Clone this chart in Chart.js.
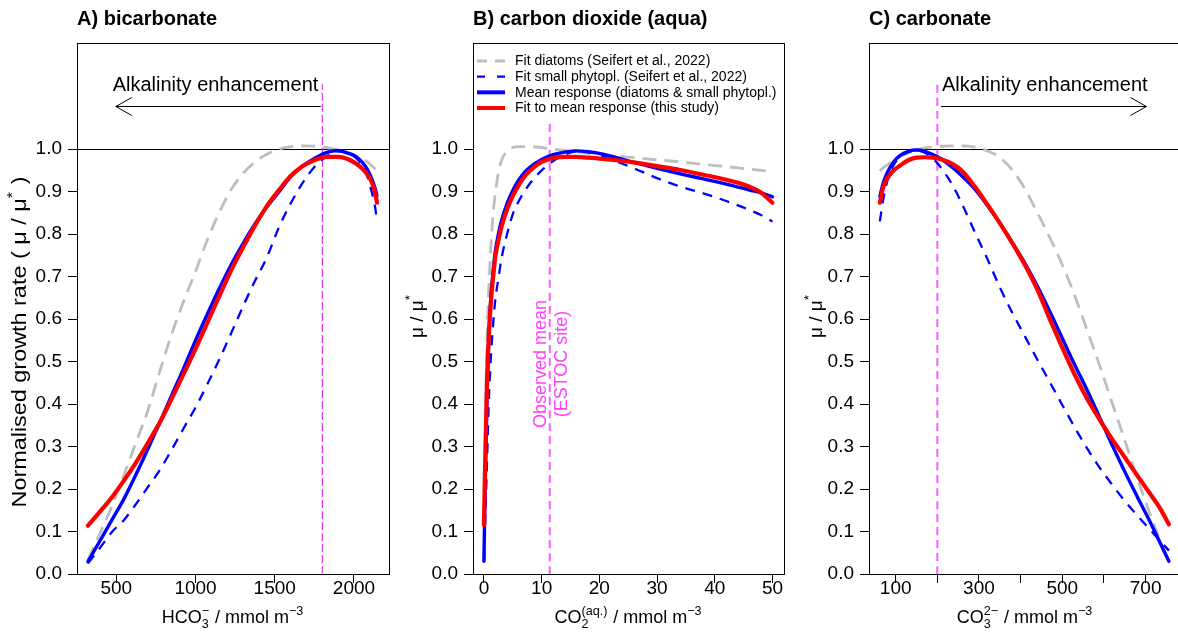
<!DOCTYPE html>
<html><head><meta charset="utf-8">
<script src="https://cdn.jsdelivr.net/npm/chart.js@4.4.0/dist/chart.umd.min.js"></script>
<style>
html,body{margin:0;padding:0;overflow:hidden;background:#fff;width:1178px;height:634px}
.p{position:absolute;top:0;width:395px;height:634px}
canvas{display:block}
</style></head><body>
<div class="p" style="left:0"><canvas id="cA" width="395" height="634"></canvas></div>
<div class="p" style="left:395px"><canvas id="cB" width="395" height="634"></canvas></div>
<div class="p" style="left:790px"><canvas id="cC" width="395" height="634"></canvas></div>
<script>
// ---------------- DATA ----------------
const seriesLabels = [
  'Fit diatoms (Seifert et al., 2022)',
  'Fit small phytopl. (Seifert et al., 2022)',
  'Mean response (diatoms & small phytopl.)',
  'Fit to mean response (this study)'
];
const yTicks = [0, 0.1, 0.2, 0.3, 0.4, 0.5, 0.6, 0.7, 0.8, 0.9, 1.0];

// A) bicarbonate
const hco3X        = [321, 400, 475, 550, 625, 700, 775, 850, 925, 1000, 1075, 1150, 1225, 1300, 1375, 1450, 1525, 1600, 1675, 1750, 1825, 1900, 1960, 2010, 2050, 2085, 2115, 2135, 2145];
const hco3Diatoms  = [0.033, 0.098, 0.162, 0.235, 0.31, 0.386, 0.478, 0.565, 0.642, 0.712, 0.787, 0.851, 0.905, 0.943, 0.97, 0.988, 1.0, 1.006, 1.008, 1.007, 1.004, 0.998, 0.992, 0.985, 0.978, 0.97, 0.96, 0.953, 0.949];
const hco3Small    = [0.025, 0.063, 0.1, 0.128, 0.165, 0.205, 0.245, 0.293, 0.343, 0.392, 0.447, 0.505, 0.567, 0.63, 0.69, 0.745, 0.815, 0.872, 0.92, 0.958, 0.983, 0.995, 0.99, 0.98, 0.962, 0.935, 0.895, 0.86, 0.83];
const hco3Mean     = [0.029, 0.08, 0.129, 0.178, 0.235, 0.295, 0.357, 0.421, 0.484, 0.55, 0.612, 0.672, 0.728, 0.778, 0.824, 0.864, 0.899, 0.935, 0.96, 0.978, 0.992, 0.997, 0.991, 0.983, 0.97, 0.952, 0.928, 0.906, 0.89];
const hco3Fit      = [0.114, 0.148, 0.182, 0.221, 0.263, 0.309, 0.357, 0.413, 0.471, 0.53, 0.592, 0.654, 0.715, 0.769, 0.82, 0.866, 0.903, 0.937, 0.96, 0.974, 0.982, 0.982, 0.977, 0.967, 0.955, 0.94, 0.92, 0.895, 0.874];
const hco3Ticks    = [500, 1000, 1500, 2000];

// B) carbon dioxide (aqua)
const co2X         = [0, 0.2, 0.5, 0.8, 1.2, 1.6, 2, 2.5, 3, 4, 5, 6, 7, 8, 10, 12, 14, 16, 18, 20, 23, 26, 30, 34, 38, 42, 46, 48, 50];
const co2Diatoms   = [0.03, 0.3, 0.54, 0.66, 0.77, 0.85, 0.9, 0.945, 0.972, 0.996, 1.004, 1.006, 1.006, 1.006, 1.004, 1.0, 0.997, 0.994, 0.99, 0.988, 0.984, 0.98, 0.975, 0.97, 0.964, 0.959, 0.953, 0.95, 0.947];
const co2Small     = [0.03, 0.12, 0.25, 0.39, 0.51, 0.59, 0.65, 0.695, 0.74, 0.8, 0.847, 0.877, 0.9, 0.92, 0.95, 0.972, 0.987, 0.995, 0.994, 0.987, 0.971, 0.955, 0.932, 0.912, 0.896, 0.878, 0.857, 0.845, 0.83];
const co2Mean      = [0.03, 0.2, 0.4, 0.54, 0.65, 0.715, 0.763, 0.8, 0.83, 0.872, 0.903, 0.927, 0.945, 0.958, 0.976, 0.987, 0.993, 0.996, 0.994, 0.99, 0.98, 0.969, 0.955, 0.942, 0.93, 0.918, 0.904, 0.897, 0.888];
const co2Fit       = [0.115, 0.26, 0.44, 0.55, 0.64, 0.7, 0.75, 0.785, 0.815, 0.858, 0.89, 0.915, 0.935, 0.95, 0.97, 0.979, 0.982, 0.982, 0.98, 0.978, 0.974, 0.969, 0.96, 0.951, 0.94, 0.928, 0.912, 0.898, 0.874];
const co2Ticks     = [0, 10, 20, 30, 40, 50];

// C) carbonate
const co3X         = [62, 70, 80, 95, 110, 130, 150, 170, 190, 210, 235, 260, 290, 320, 350, 380, 410, 440, 470, 500, 530, 560, 590, 620, 650, 680, 710, 735, 756];
const co3Diatoms   = [0.949, 0.956, 0.963, 0.973, 0.982, 0.991, 0.998, 1.003, 1.006, 1.007, 1.008, 1.008, 1.005, 0.996, 0.981, 0.951, 0.907, 0.851, 0.792, 0.728, 0.655, 0.573, 0.49, 0.402, 0.315, 0.226, 0.143, 0.078, 0.029];
const co3Small     = [0.83, 0.88, 0.925, 0.962, 0.982, 0.993, 0.997, 0.992, 0.978, 0.955, 0.918, 0.87, 0.805, 0.742, 0.675, 0.615, 0.56, 0.505, 0.452, 0.398, 0.345, 0.295, 0.25, 0.21, 0.172, 0.138, 0.105, 0.078, 0.055];
const co3Mean      = [0.889, 0.92, 0.945, 0.97, 0.985, 0.995, 0.998, 0.995, 0.987, 0.977, 0.958, 0.936, 0.906, 0.868, 0.826, 0.78, 0.732, 0.678, 0.618, 0.555, 0.492, 0.432, 0.368, 0.303, 0.241, 0.182, 0.124, 0.073, 0.03];
const co3Fit       = [0.874, 0.91, 0.932, 0.95, 0.961, 0.974, 0.98, 0.981, 0.98, 0.976, 0.966, 0.948, 0.912, 0.87, 0.826, 0.779, 0.728, 0.67, 0.6, 0.533, 0.469, 0.412, 0.363, 0.317, 0.275, 0.232, 0.19, 0.154, 0.117];
const co3Ticks     = [100, 200, 300, 400, 500, 600, 700];
const co3TickLabels = [100, 300, 500, 700];

// observed means (ESTOC site): HCO3, CO2, CO3
const observedMean = [1800, 11.4, 200];

// ---------------- STYLE / HELPERS ----------------
const FONT = "'Liberation Sans', Arial, Helvetica, sans-serif";
const STY = {
  diatoms: {borderColor: '#bebebe', borderWidth: 2.8, borderDash: [14, 8], borderCapStyle: 'butt', legendDash: [10, 8]},
  small:   {borderColor: '#0000ff', borderWidth: 2.3, borderDash: [10, 8], borderCapStyle: 'butt', legendDash: [8, 12]},
  mean:    {borderColor: '#0000ff', borderWidth: 3.4, borderCapStyle: 'round'},
  fit:     {borderColor: '#ff0000', borderWidth: 4.2, borderCapStyle: 'round'}
};
const zip = (xs, ys) => xs.map((x, i) => ({x: x, y: ys[i]}));

function makeDatasets(xs, d, s, m, f, obs, obsTop, obsStyle) {
  const base = {pointRadius: 0, fill: false, cubicInterpolationMode: 'monotone', borderJoinStyle: 'round'};
  return [
    Object.assign({}, base, {label: 'obs', data: [{x: obs, y: 0}, {x: obs, y: obsTop}], order: 9}, obsStyle),
    Object.assign({}, base, {label: seriesLabels[3], data: zip(xs, f), order: 1}, STY.fit),
    Object.assign({}, base, {label: seriesLabels[2], data: zip(xs, m), order: 2}, STY.mean),
    Object.assign({}, base, {label: seriesLabels[1], data: zip(xs, s), order: 3}, STY.small),
    Object.assign({}, base, {label: seriesLabels[0], data: zip(xs, d), order: 4}, STY.diatoms)
  ];
}

function drawRich(ctx, parts, x, y, size, color, align, rot, stretch) {
  ctx.save();
  ctx.translate(x, y);
  if (rot) ctx.rotate(rot);
  if (stretch) ctx.scale(stretch, 1);
  ctx.fillStyle = color;
  ctx.textBaseline = 'alphabetic';
  ctx.textAlign = 'left';
  const small = size * 0.7;
  let w = 0; const segs = [];
  for (const p of parts) {
    if (typeof p === 'string') {
      ctx.font = size + 'px ' + FONT;
      segs.push({t: p, f: size, dy: 0, x: w});
      w += ctx.measureText(p).width;
    } else {
      ctx.font = small + 'px ' + FONT;
      let ww = 0;
      if (p.sub != null) { segs.push({t: p.sub, f: small, dy: size * 0.3, x: w}); ww = Math.max(ww, ctx.measureText(p.sub).width); }
      if (p.sup != null) { segs.push({t: p.sup, f: small, dy: -size * 0.45, x: w}); ww = Math.max(ww, ctx.measureText(p.sup).width); }
      w += ww + size * 0.05;
    }
  }
  const x0 = align === 'center' ? -w / 2 : (align === 'right' ? -w : 0);
  for (const sg of segs) { ctx.font = sg.f + 'px ' + FONT; ctx.fillText(sg.t, x0 + sg.x, sg.dy); }
  ctx.restore();
}

const decor = {
  id: 'decor',
  beforeDatasetsDraw(chart, args, o) {
    const {ctx, chartArea: a, scales: {y}} = chart;
    ctx.save();
    ctx.strokeStyle = '#000'; ctx.lineWidth = 1; ctx.setLineDash([]);
    if (o.refLine != null) {
      const py = Math.round(y.getPixelForValue(o.refLine)) + 0.5;
      ctx.beginPath(); ctx.moveTo(a.left, py); ctx.lineTo(a.right, py); ctx.stroke();
    }
    ctx.restore();
  },
  afterDraw(chart, args, o) {
    const {ctx, chartArea: a, scales: {x, y}} = chart;
    ctx.save();
    ctx.setLineDash([]);
    ctx.strokeStyle = '#000'; ctx.lineWidth = 1;
    const L = Math.round(a.left) + 0.5, T = Math.round(a.top) + 0.5;
    ctx.strokeRect(L, T, Math.round(a.right) - Math.round(a.left), Math.round(a.bottom) - Math.round(a.top));
    // panel title
    ctx.fillStyle = '#000'; ctx.textAlign = 'left'; ctx.textBaseline = 'alphabetic';
    ctx.font = 'bold 20px ' + FONT;
    ctx.fillText(o.title, a.left, 25);
    // x title
    drawRich(ctx, o.xTitle, (a.left + a.right) / 2, 623, 18, '#000', 'center', 0);
    // y title
    drawRich(ctx, o.yTitle, o.yTitlePos[0] + 0.36 * o.yTitleSize, o.yTitlePos[1], o.yTitleSize, '#000', 'center', -Math.PI / 2, o.yTitleStretch);
    // arrow annotation
    if (o.arrow) {
      const ar = o.arrow;
      const x1 = x.getPixelForValue(ar.from), x2 = x.getPixelForValue(ar.to), py = Math.round(y.getPixelForValue(ar.y)) + 0.5;
      const dir = Math.sign(x2 - x1);
      ctx.strokeStyle = '#000'; ctx.lineWidth = 1;
      ctx.beginPath(); ctx.moveTo(x1, py); ctx.lineTo(x2, py);
      ctx.moveTo(x2 - dir * 16, py - 9); ctx.lineTo(x2, py); ctx.lineTo(x2 - dir * 16, py + 9);
      ctx.stroke();
      ctx.font = '20px ' + FONT; ctx.fillStyle = '#000';
      ctx.textAlign = ar.align; ctx.textBaseline = 'alphabetic';
      ctx.fillText(ar.text, x.getPixelForValue(ar.textX), y.getPixelForValue(ar.textY));
    }
    // observed mean text
    if (o.obsText) {
      const ot = o.obsText;
      for (const ln of ot.lines) {
        drawRich(ctx, [ln[0]], ln[1] + 0.36 * ot.size, ot.cy, ot.size, ot.color, 'center', -Math.PI / 2);
      }
    }
    // legend
    if (o.legend) {
      const ds = chart.data.datasets;
      const items = seriesLabels.map(lb => ds.find(d => d.label === lb));
      items.forEach((d, i) => {
        const cy = a.top + 18 + i * 15.67;
        ctx.save();
        ctx.strokeStyle = d.borderColor; ctx.lineWidth = d.borderDash ? d.borderWidth : 4;
        ctx.setLineDash(d.legendDash || []);
        ctx.lineCap = 'butt';
        ctx.beginPath(); ctx.moveTo(a.left + 4, cy); ctx.lineTo(a.left + 32, cy); ctx.stroke();
        ctx.restore();
        ctx.fillStyle = '#000'; ctx.font = '14px ' + FONT; ctx.textAlign = 'left'; ctx.textBaseline = 'middle';
        ctx.fillText(d.label, a.left + 42, cy + 0.5);
      });
    }
    ctx.restore();
  }
};

function makePanel(id, cfg) {
  const tickFont = {family: FONT, size: 19};
  return new Chart(document.getElementById(id), {
    type: 'line',
    data: {datasets: cfg.datasets},
    plugins: [decor],
    options: {
      responsive: false,
      animation: false,
      devicePixelRatio: 1,
      layout: {padding: {left: 0, right: cfg.padRight, top: 43, bottom: 0}},
      plugins: {
        legend: {display: false},
        tooltip: {enabled: false},
        decor: cfg.decor
      },
      scales: {
        x: {
          type: 'linear', min: cfg.xMin, max: cfg.xMax,
          afterBuildTicks: s => { s.ticks = cfg.xTicks.map(v => ({value: v})); },
          ticks: {autoSkip: false, maxRotation: 0, minRotation: 0, font: tickFont, color: '#000', padding: -6,
                  callback: cfg.xLabel || (v => String(v))},
          grid: {drawOnChartArea: false, drawTicks: true, tickLength: 9, color: '#000', lineWidth: 1},
          border: {display: false},
          afterFit: s => { s.height = 60; }
        },
        y: {
          type: 'linear', min: 0, max: 1.25,
          afterBuildTicks: s => { s.ticks = yTicks.map(v => ({value: v})); },
          ticks: {autoSkip: false, font: tickFont, color: '#000', padding: 6, callback: v => Number(v).toFixed(1)},
          grid: {drawOnChartArea: false, drawTicks: true, tickLength: 9, color: '#000', lineWidth: 1},
          border: {display: false},
          afterFit: s => { s.width = cfg.yWidth; }
        }
      }
    }
  });
}

const obsThin = {borderColor: '#e000e0', borderWidth: 1, borderDash: [8, 3], borderCapStyle: 'butt'};
const obsThick = {borderColor: '#ff5cff', borderWidth: 2, borderDash: [8, 5], borderCapStyle: 'butt'};

makePanel('cA', {
  datasets: makeDatasets(hco3X, hco3Diatoms, hco3Small, hco3Mean, hco3Fit, observedMean[0], 1.153, obsThin),
  xMin: 252, xMax: 2221, xTicks: hco3Ticks, yWidth: 77, padRight: 6,
  decor: {
    title: 'A) bicarbonate',
    refLine: 1.0,
    xTitle: ['HCO', {sub: '3', sup: '\u2212'}, ' / mmol m', {sup: '\u22123'}],
    yTitle: ['Normalised growth rate ( \u03bc / \u03bc', {sup: '*'}, ' )'],
    yTitleSize: 20, yTitleStretch: 1.17, yTitlePos: [19, 342],
    arrow: {from: 1790, to: 497, y: 1.101, text: 'Alkalinity enhancement', textX: 1775, textY: 1.137, align: 'right'}
  }
});

makePanel('cB', {
  datasets: makeDatasets(co2X, co2Diatoms, co2Small, co2Mean, co2Fit, observedMean[1], 1.06, obsThick),
  xMin: -1.9, xMax: 52, xTicks: co2Ticks, yWidth: 78, padRight: 6,
  decor: {
    title: 'B) carbon dioxide (aqua)',
    xTitle: ['CO', {sub: '2', sup: '(aq.)'}, ' / mmol m', {sup: '\u22123'}],
    yTitle: ['\u03bc / \u03bc', {sup: '*'}],
    yTitleSize: 19, yTitlePos: [21, 316],
    legend: true,
    obsText: {size: 18, color: '#ff40ff', cy: 364, lines: [['Observed mean', 145], ['(ESTOC site)', 166]]}
  }
});

makePanel('cC', {
  datasets: makeDatasets(co3X, co3Diatoms, co3Small, co3Mean, co3Fit, observedMean[2], 1.153, obsThick),
  xMin: 36, xMax: 785, xTicks: co3Ticks, yWidth: 79, padRight: 4,
  xLabel: v => (co3TickLabels.indexOf(v) >= 0 ? String(v) : ''),
  decor: {
    title: 'C) carbonate',
    refLine: 1.0,
    xTitle: ['CO', {sub: '3', sup: '2\u2212'}, ' / mmol m', {sup: '\u22123'}],
    yTitle: ['\u03bc / \u03bc', {sup: '*'}],
    yTitleSize: 19, yTitlePos: [25, 316],
    arrow: {from: 209, to: 702, y: 1.101, text: 'Alkalinity enhancement', textX: 211, textY: 1.137, align: 'left'}
  }
});
</script>
</body></html>
